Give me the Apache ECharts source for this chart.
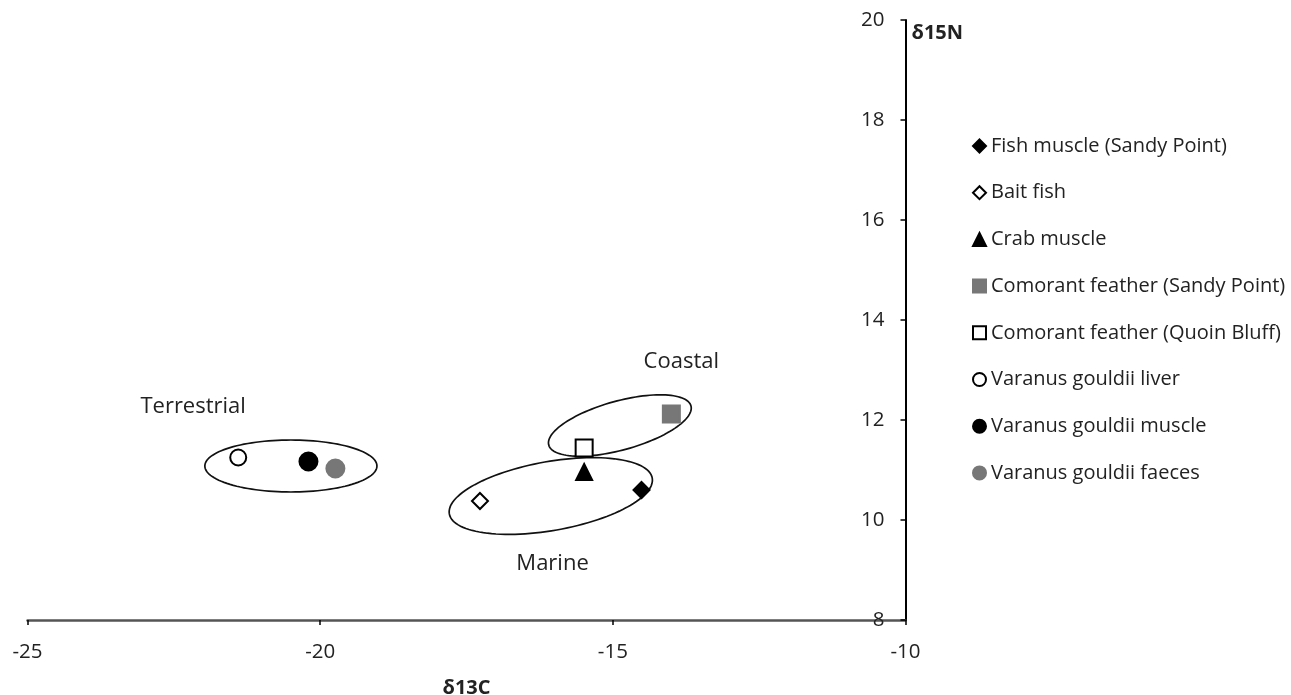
<!DOCTYPE html>
<html>
<head>
<meta charset="utf-8">
<script src="https://cdn.jsdelivr.net/npm/echarts@6/dist/echarts.min.js"></script>
<style>
html,body{margin:0;padding:0;background:#fff;}
#chart{width:1291px;height:695px;}
</style>
</head>
<body>
<div id="chart"></div>
<script>
// ---- data ----
const categories = [
  'Fish muscle (Sandy Point)',
  'Bait fish',
  'Crab muscle',
  'Comorant feather (Sandy Point)',
  'Comorant feather (Quoin Bluff)',
  'Varanus gouldii liver',
  'Varanus gouldii muscle',
  'Varanus gouldii faeces'
];
const d13C = [-14.51, -17.27, -15.49, -14.00, -15.49, -21.40, -20.20, -19.74];
const d15N = [10.60, 10.38, 10.96, 12.12, 11.44, 11.25, 11.17, 11.03];

const xTicks = [-25, -20, -15, -10];
const yTicks = [8, 10, 12, 14, 16, 18, 20];

// group ellipses (centre in data units, semi-axes in data units, tilt in degrees)
const groupNames = ['Terrestrial', 'Coastal', 'Marine'];
const ellipseCx = [-20.50, -14.88, -16.06];
const ellipseCy = [11.08, 11.89, 10.48];
const ellipseRx = [1.47, 1.26, 1.76];
const ellipseRy = [0.52, 0.49, 0.69];
const ellipseTilt = [0, 15.4, 10];
const labelX = [-22.17, -13.83, -16.03];
const labelY = [12.26, 13.16, 9.12];

// ---- styles ----
const FONT = '"Open Sans", sans-serif';
const markerStyles = [
  {symbol: 'diamond', color: '#000', border: '#000', size: 16},
  {symbol: 'diamond', color: '#fff', border: '#000', size: 16},
  {symbol: 'triangle', color: '#000', border: '#000', size: 16},
  {symbol: 'rect', color: '#777', border: '#777', size: 17},
  {symbol: 'rect', color: '#fff', border: '#000', size: 17},
  {symbol: 'circle', color: '#fff', border: '#000', size: 16},
  {symbol: 'circle', color: '#000', border: '#000', size: 18},
  {symbol: 'circle', color: '#777', border: '#777', size: 18}
];

const scatterSeries = categories.map((name, i) => ({
  name: name,
  type: 'scatter',
  symbol: markerStyles[i].symbol,
  symbolSize: markerStyles[i].size,
  itemStyle: {
    color: markerStyles[i].color,
    borderColor: markerStyles[i].border,
    borderWidth: 2,
    opacity: 1
  },
  emphasis: {disabled: true},
  z: 5,
  data: [[d13C[i], d15N[i]]]
}));

const ellipseData = groupNames.map((n, i) => [ellipseCx[i], ellipseCy[i], ellipseRx[i], ellipseRy[i], ellipseTilt[i]]);
const labelData = groupNames.map((n, i) => [labelX[i], labelY[i], n]);

const ellipseSeries = {
  type: 'custom',
  silent: true,
  z: 3,
  data: ellipseData,
  encode: {x: 0, y: 1},
  renderItem: function (params, api) {
    const c = api.coord([api.value(0), api.value(1)]);
    const s = api.size([1, 1]);
    const a = api.value(2) * s[0];
    const b = api.value(3) * s[1];
    const phi = api.value(4) * Math.PI / 180;
    const pts = [];
    for (let k = 0; k < 120; k++) {
      const t = k / 120 * Math.PI * 2;
      const ca = a * Math.cos(t), sb = b * Math.sin(t);
      pts.push([
        c[0] + ca * Math.cos(phi) + sb * Math.sin(phi),
        c[1] - ca * Math.sin(phi) + sb * Math.cos(phi)
      ]);
    }
    return {
      type: 'polygon',
      shape: {points: pts},
      style: {fill: 'none', stroke: '#111', lineWidth: 1.7}
    };
  }
};

const labelSeries = {
  type: 'custom',
  silent: true,
  z: 4,
  data: labelData,
  encode: {x: 0, y: 1},
  renderItem: function (params, api) {
    const c = api.coord([api.value(0), api.value(1)]);
    return {
      type: 'text',
      x: c[0], y: c[1],
      style: {
        text: labelData[params.dataIndex][2],
        font: '22px ' + FONT,
        fill: '#222',
        align: 'center',
        verticalAlign: 'middle'
      }
    };
  }
};

const chart = echarts.init(document.getElementById('chart'), null, {renderer: 'canvas'});
chart.setOption({
  animation: false,
  backgroundColor: '#fff',
  grid: {left: 27.5, right: 385.5, top: 20, bottom: 75, containLabel: false, outerBoundsMode: 'none'},
  xAxis: {
    type: 'value',
    min: xTicks[0], max: xTicks[xTicks.length - 1], interval: 5,
    splitLine: {show: false},
    axisLine: {onZero: false, lineStyle: {color: '#555', width: 2.5}},
    axisTick: {show: true, inside: false, length: 5, lineStyle: {color: '#000', width: 1.5}},
    axisLabel: {color: '#222', fontFamily: FONT, fontSize: 20.5, margin: 22},
    name: 'δ13C',
    nameLocation: 'middle',
    nameGap: 58,
    nameTextStyle: {color: '#222', fontFamily: FONT, fontSize: 20, fontWeight: 'bold'}
  },
  yAxis: {
    type: 'value',
    position: 'right',
    min: yTicks[0], max: yTicks[yTicks.length - 1], interval: 2,
    splitLine: {show: false},
    axisLine: {onZero: false, lineStyle: {color: '#000', width: 2}},
    axisTick: {show: true, inside: true, length: 5, lineStyle: {color: '#000', width: 1.5}},
    axisLabel: {inside: true, color: '#222', fontFamily: FONT, fontSize: 20.5, margin: 21},
    name: 'δ15N',
    nameLocation: 'end',
    nameGap: -13,
    nameTextStyle: {color: '#222', fontFamily: FONT, fontSize: 20, fontWeight: 'bold', align: 'left', verticalAlign: 'middle', padding: [0, 0, 0, 6]}
  },
  legend: {
    orient: 'vertical',
    left: 967,
    top: 130,
    itemWidth: 13,
    itemHeight: 13,
    itemGap: 24.7,
    selectedMode: false,
    data: categories,
    textStyle: {color: '#222', fontFamily: FONT, fontSize: 20, lineHeight: 22, padding: [0, 0, 0, 0]}
  },
  series: [ellipseSeries, labelSeries].concat(scatterSeries)
});
</script>
</body>
</html>
